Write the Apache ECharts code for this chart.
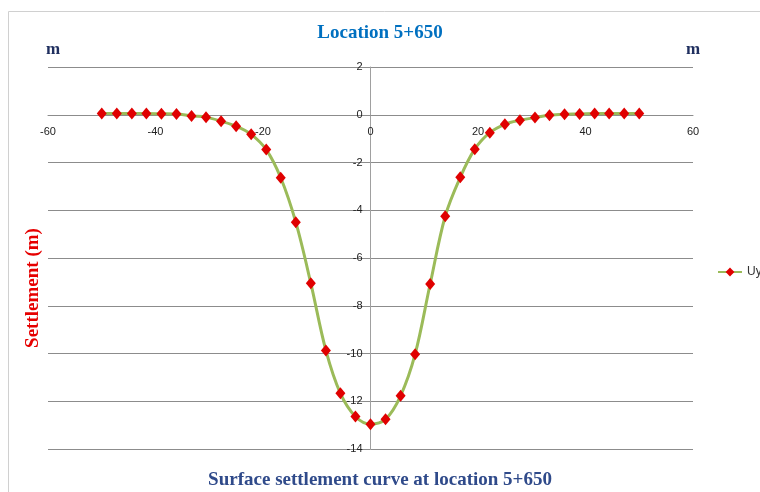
<!DOCTYPE html>
<html>
<head>
<meta charset="utf-8">
<script src="https://cdn.jsdelivr.net/npm/echarts@6/dist/echarts.min.js"></script>
<style>html,body{margin:0;padding:0;background:#fff;}#c{width:760px;height:492px;}</style>
</head>
<body>
<div id="c"></div>
<script>
// Data
var xValues = [-50.0,-47.2,-44.4,-41.7,-38.9,-36.1,-33.3,-30.6,-27.8,-25.0,-22.2,-19.4,-16.7,-13.9,-11.1,-8.3,-5.6,-2.8,0.0,2.8,5.6,8.3,11.1,13.9,16.7,19.4,22.2,25.0,27.8,30.6,33.3,36.1,38.9,41.7,44.4,47.2,50.0];
var uyValues = [0.05,0.05,0.05,0.05,0.04,0.03,-0.05,-0.1,-0.27,-0.48,-0.82,-1.46,-2.64,-4.5,-7.06,-9.87,-11.67,-12.64,-12.96,-12.75,-11.77,-10.03,-7.09,-4.25,-2.62,-1.44,-0.75,-0.4,-0.23,-0.12,-0.02,0.02,0.03,0.05,0.05,0.05,0.05];
var seriesName = 'Uy';
var titleText = 'Location 5+650';
var bottomText = 'Surface settlement curve at location 5+650';
var yAxisName = 'Settlement (m)';
var unitText = 'm';

var pts = xValues.map(function(x, i){ return [x, uyValues[i]]; });
var serif = '"Liberation Serif","Times New Roman",serif';
var gridL = 48, gridR = 67, gridT = 67, gridB = 43, W = 760, H = 492;
var xMin = -60, xMax = 60, yMin = -14, yMax = 2;
var gw = W - gridL - gridR, gh = H - gridT - gridB;
// shift axes so they cross at zero (labels follow)
var xAxisOffset = -(gh * (0 - yMin) / (yMax - yMin));
var yAxisOffset = -(gw * (0 - xMin) / (xMax - xMin));
var chart = echarts.init(document.getElementById('c'), null, {renderer:'canvas'});
chart.setOption({
  animation: false,
  backgroundColor: '#fff',
  title: [
    {text: titleText, left: 'center', top: 19, textStyle:{fontFamily: serif, fontWeight:'bold', fontSize: 19, color:'#0070c0'}},
    {text: bottomText, left: 'center', top: 466, textStyle:{fontFamily: serif, fontWeight:'bold', fontSize: 19, color:'#2f4a8a'}}
  ],
  graphic: [
    {type:'rect', shape:{x:8.5, y:11.5, width:800, height:600}, style:{fill:'none', stroke:'#d0d0d0', lineWidth:1}, silent:true},
    {type:'text', left: 46, top: 41, style:{text: unitText, font:'bold 17px ' + serif, fill:'#1f2f5f'}},
    {type:'text', left: 686, top: 41, style:{text: unitText, font:'bold 17px ' + serif, fill:'#1f2f5f'}},
    {type:'text', x: 33, y: 288, rotation: Math.PI/2, style:{text: yAxisName, font:'bold 19px ' + serif, fill:'#e60000', textAlign:'center', textVerticalAlign:'middle'}}
  ],
  legend: {
    data: [seriesName], left: 717, top: 266, padding: 0, itemWidth: 24, itemHeight: 11, itemGap: 4,
    textStyle:{fontSize: 12, color:'#333', fontFamily:'"Liberation Sans",Arial,sans-serif'}
  },
  grid: {left: gridL, right: gridR, top: gridT, bottom: gridB, containLabel: false},
  xAxis: {
    type: 'value', min: xMin, max: xMax, interval: 20, position: 'bottom', offset: xAxisOffset,
    axisLine: {show: true, onZero: false, lineStyle:{color:'#8c8c8c', width: 1}},
    axisTick: {show: false},
    splitLine: {show: false},
    axisLabel: {margin: 12, fontSize: 11, color:'#222', fontFamily:'"Liberation Sans",Arial,sans-serif'}
  },
  yAxis: {
    type: 'value', min: yMin, max: yMax, interval: 2, position: 'left', offset: yAxisOffset,
    axisLine: {show: true, onZero: false, lineStyle:{color:'#a0a0a0', width: 1}},
    axisTick: {show: false},
    splitLine: {show: true, lineStyle:{color:'#8c8c8c', width: 1}},
    axisLabel: {margin: 8, fontSize: 11, color:'#222', fontFamily:'"Liberation Sans",Arial,sans-serif'}
  },
  series: [{
    name: seriesName, type: 'line', data: pts, smooth: 0.35,
    symbol: 'diamond', symbolSize: [10, 12],
    lineStyle: {color:'#9bbb59', width: 3},
    itemStyle: {color:'#e00000'}
  }]
});
</script>
</body>
</html>
